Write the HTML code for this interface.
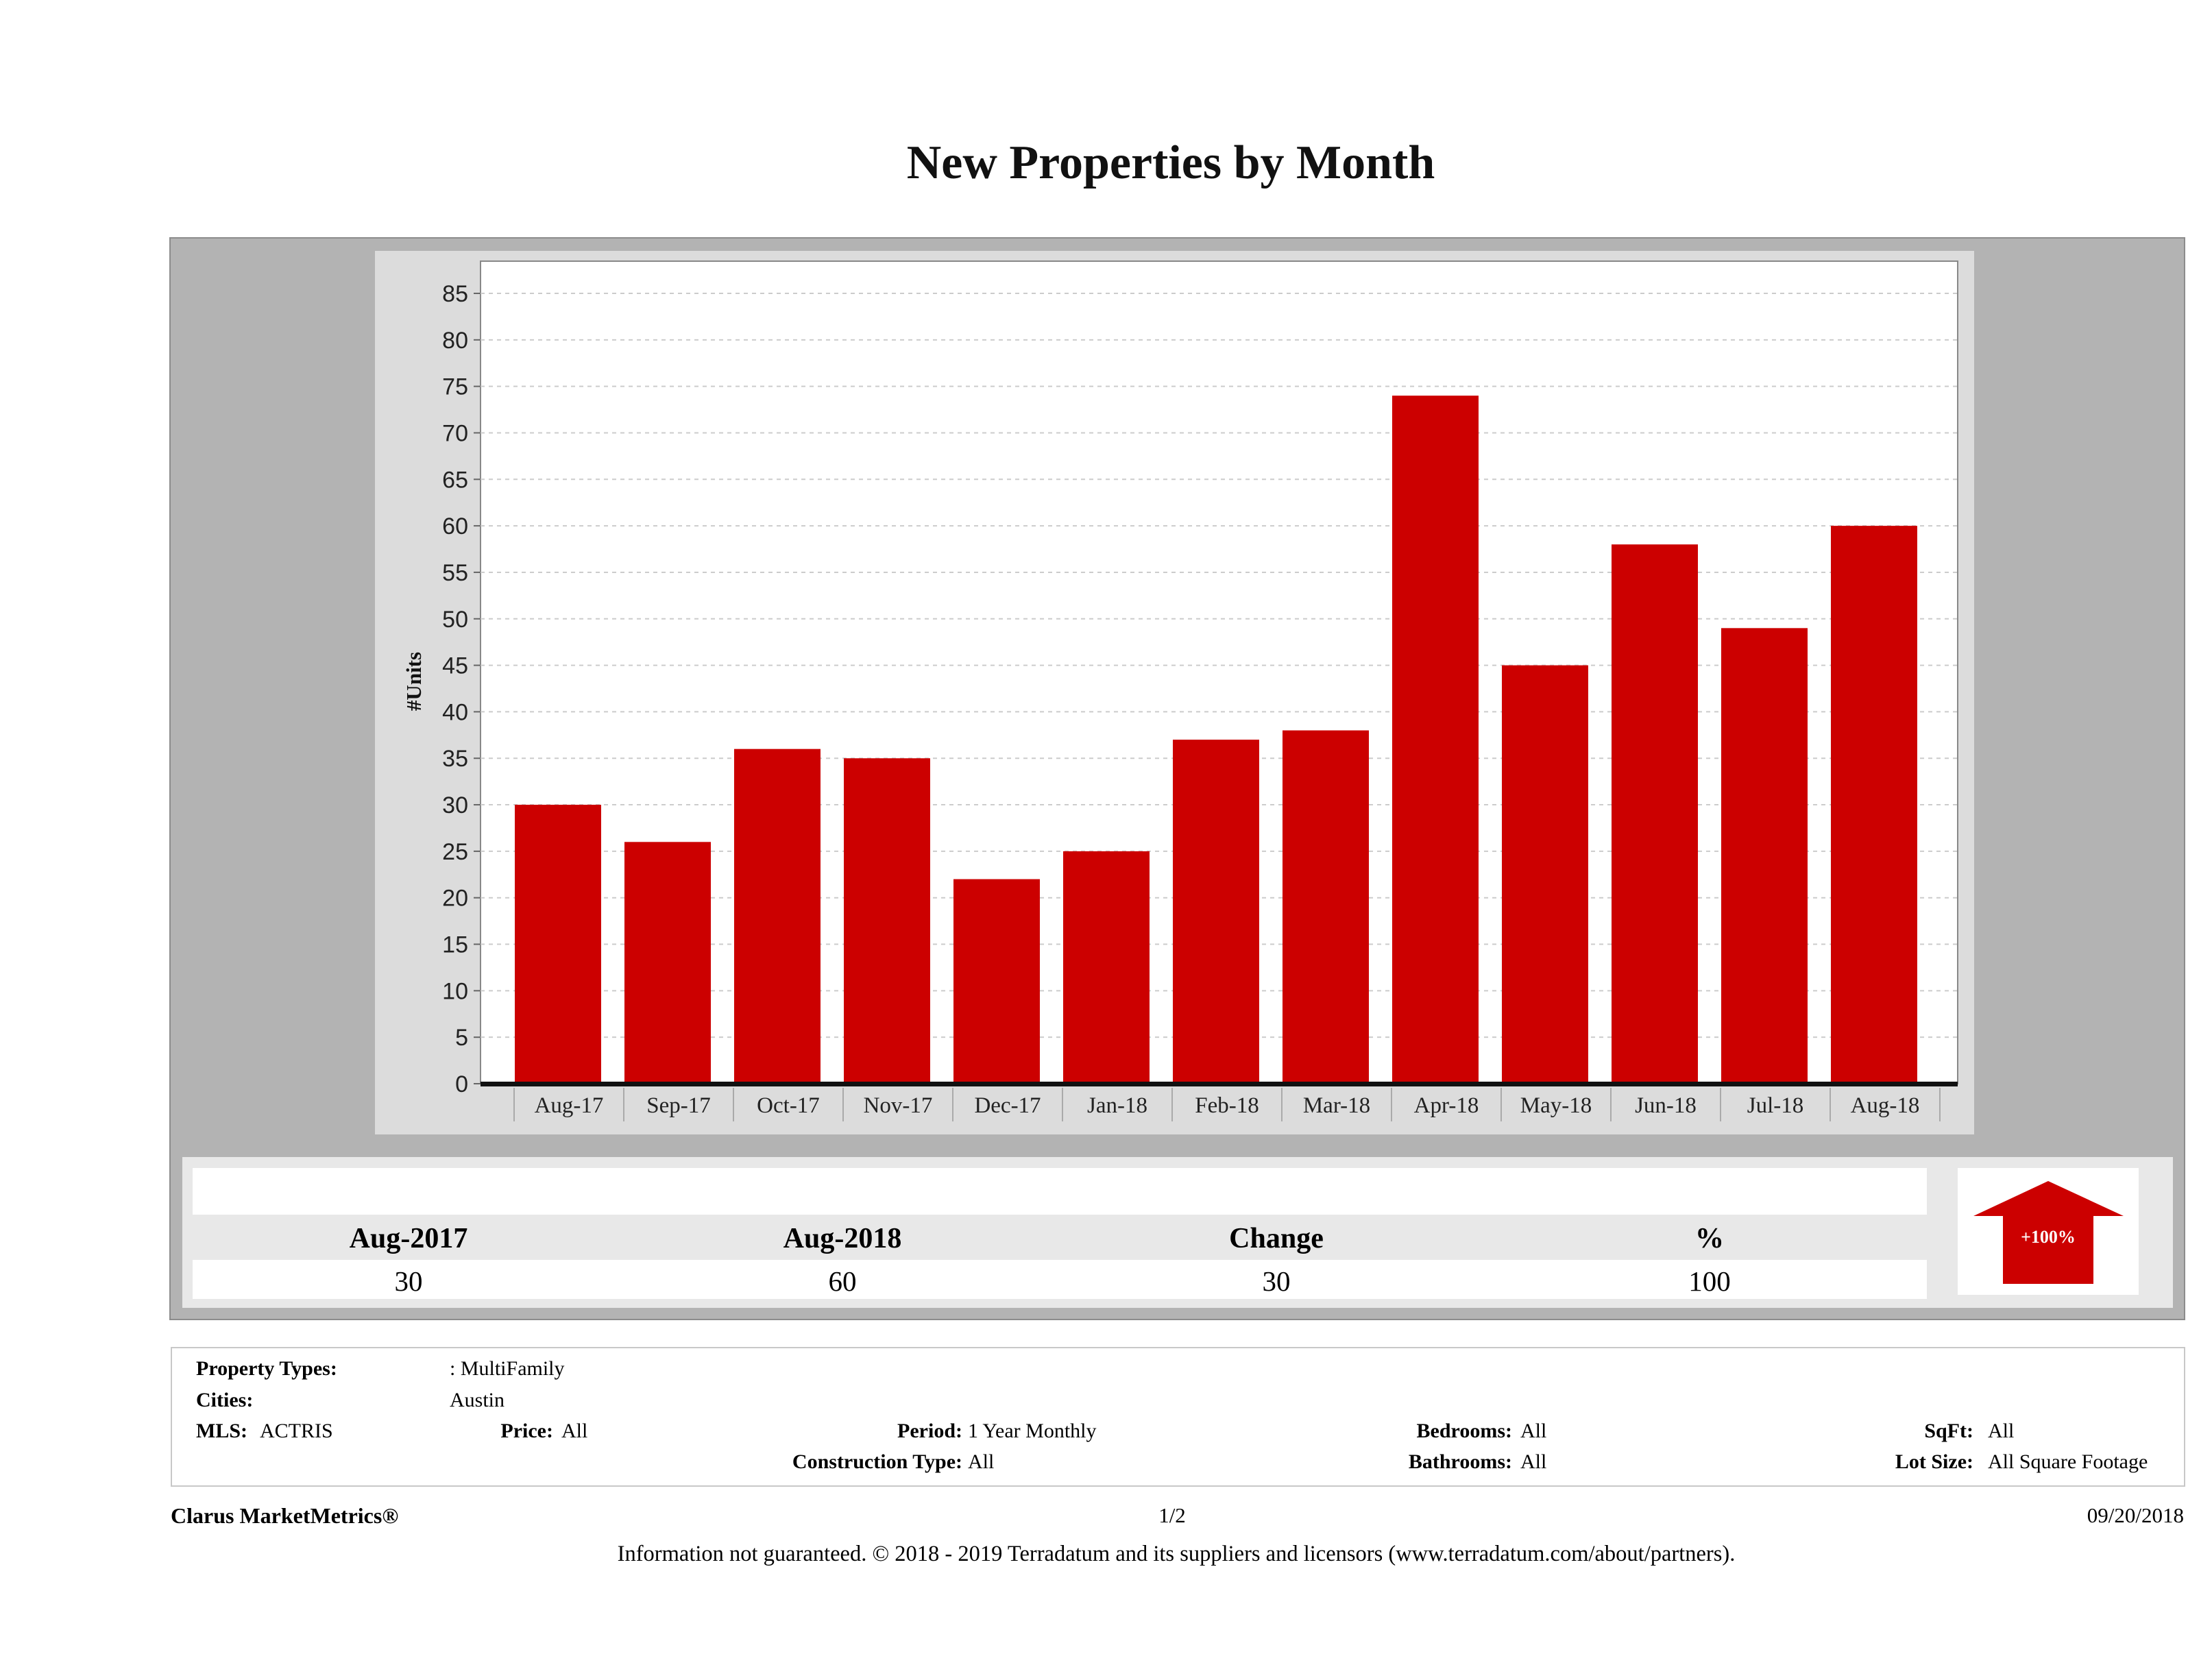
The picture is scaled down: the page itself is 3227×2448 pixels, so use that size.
<!DOCTYPE html>
<html><head><meta charset="utf-8"><style>
body{margin:0;width:3227px;height:2448px;background:#fff;position:relative;overflow:hidden;font-family:"Liberation Serif",serif;}
.a{position:absolute;white-space:nowrap;}
.b{font-weight:bold;}
</style></head><body>
<div class="a b" style="left:0;width:3416px;top:198px;text-align:center;font-size:70px;color:#111;">New Properties by Month</div>
<div class="a" style="left:247px;top:346px;width:2937px;height:1576px;background:#b3b3b3;border:2px solid #8c8c8c;"></div>
<div class="a" style="left:547px;top:366px;width:2333px;height:1289px;background:#dcdcdc;"></div>
<svg class="a" style="left:0;top:0" width="3227" height="1700">
<g id="g"></g>
</svg>
<div class="a" style="left:266px;top:1688px;width:2904px;height:220px;background:#e8e8e8;"></div>
<div class="a" style="left:281px;top:1704px;width:2530px;height:68px;background:#fff;"></div>
<div class="a" style="left:281px;top:1838px;width:2530px;height:57px;background:#fff;"></div>
<div class="a b" style="left:496px;width:200px;top:1783px;text-align:center;font-size:42px;line-height:48px;">Aug-2017</div>
<div class="a b" style="left:1129px;width:200px;top:1783px;text-align:center;font-size:42px;line-height:48px;">Aug-2018</div>
<div class="a b" style="left:1762px;width:200px;top:1783px;text-align:center;font-size:42px;line-height:48px;">Change</div>
<div class="a b" style="left:2394px;width:200px;top:1783px;text-align:center;font-size:42px;line-height:48px;">%</div>
<div class="a" style="left:496px;width:200px;top:1845px;text-align:center;font-size:41px;line-height:48px;">30</div>
<div class="a" style="left:1129px;width:200px;top:1845px;text-align:center;font-size:41px;line-height:48px;">60</div>
<div class="a" style="left:1762px;width:200px;top:1845px;text-align:center;font-size:41px;line-height:48px;">30</div>
<div class="a" style="left:2394px;width:200px;top:1845px;text-align:center;font-size:41px;line-height:48px;">100</div>
<div class="a" style="left:2856px;top:1704px;width:264px;height:185px;background:#fff;"></div>
<svg class="a" style="left:2856px;top:1704px" width="264" height="185">
<polygon points="132,19 242,70 198,70 198,169 66,169 66,70 23,70" fill="#cc0000"/>
<text x="132" y="109" text-anchor="middle" font-family="Liberation Serif" font-weight="bold" font-size="26" fill="#fff">+100%</text>
</svg>
<div class="a" style="left:249px;top:1965px;width:2935px;height:200px;border:2px solid #c8c8c8;"></div>
<div style="font-size:30px;">
<div class="a b" style="left:286px;top:1980px;">Property Types:</div>
<div class="a" style="left:656px;top:1980px;">: MultiFamily</div>
<div class="a b" style="left:286px;top:2026px;">Cities:</div>
<div class="a" style="left:656px;top:2026px;">Austin</div>
<div class="a b" style="left:286px;top:2071px;">MLS:</div>
<div class="a" style="left:379px;top:2071px;">ACTRIS</div>
<div class="a b" style="right:2420px;top:2071px;">Price:</div>
<div class="a" style="left:819px;top:2071px;">All</div>
<div class="a b" style="right:1823px;top:2071px;">Period:</div>
<div class="a" style="left:1412px;top:2071px;">1 Year Monthly</div>
<div class="a b" style="right:1823px;top:2116px;">Construction Type:</div>
<div class="a" style="left:1412px;top:2116px;">All</div>
<div class="a b" style="right:1021px;top:2071px;">Bedrooms:</div>
<div class="a" style="left:2218px;top:2071px;">All</div>
<div class="a b" style="right:1021px;top:2116px;">Bathrooms:</div>
<div class="a" style="left:2218px;top:2116px;">All</div>
<div class="a b" style="right:348px;top:2071px;">SqFt:</div>
<div class="a" style="left:2900px;top:2071px;">All</div>
<div class="a b" style="right:348px;top:2116px;">Lot Size:</div>
<div class="a" style="left:2900px;top:2116px;">All Square Footage</div>
<div class="a b" style="left:249px;top:2193px;font-size:32px;">Clarus MarketMetrics®</div>
<div class="a" style="left:1610px;width:200px;text-align:center;top:2193px;font-size:31px;">1/2</div>
<div class="a" style="right:41px;top:2193px;font-size:31px;">09/20/2018</div>
<div class="a" style="left:0;width:3432px;text-align:center;top:2249px;font-size:32.5px;">Information not guaranteed. © 2018 - 2019 Terradatum and its suppliers and licensors (www.terradatum.com/about/partners).</div>
</div>
<script>
const categories=["Aug-17","Sep-17","Oct-17","Nov-17","Dec-17","Jan-18","Feb-18","Mar-18","Apr-18","May-18","Jun-18","Jul-18","Aug-18"];
const values=[30,26,36,35,22,25,37,38,74,45,58,49,60];
const yTicks=[0,5,10,15,20,25,30,35,40,45,50,55,60,65,70,75,80,85];
const NS="http://www.w3.org/2000/svg";
const g=document.getElementById('g');
const PL=701,PR=2856,PT=381,Y0=1581,YS=(1581-428)/85,X0=750,CW=160,BW=126;
const y=v=>Y0-v*YS, x=i=>X0+i*CW;
function mk(t,a,p){const e=document.createElementNS(NS,t);for(const k in a)e.setAttribute(k,a[k]);(p||g).appendChild(e);return e;}
let r=mk('rect',{x:PL,y:PT,width:PR-PL,height:Y0-PT,fill:'#fff',stroke:'#888','stroke-width':2});


yTicks.forEach(v=>{
 if(v>0){let l=mk('line',{x1:PL,x2:PR,y1:y(v),y2:y(v),stroke:'#ccc','stroke-width':2,'stroke-dasharray':'6 6'});
 
 }
 mk('line',{x1:PL-10,x2:PL,y1:y(v),y2:y(v),stroke:'#666','stroke-width':2});
 let t=mk('text',{x:PL-18,y:y(v)+12,'text-anchor':'end','font-family':'Liberation Sans','font-size':34,fill:'#222'});
 t.textContent=v;
 
 
});
values.forEach((v,i)=>{
 let b=mk('rect',{x:x(i)+1,y:y(v),width:BW,height:Y0-y(v),fill:'#cc0000'});
 
 
 mk('line',{x1:x(i),x2:x(i),y1:Y0+6,y2:1636,stroke:'#aaa','stroke-width':2});
 let t=mk('text',{x:x(i)+CW/2,y:1623,'text-anchor':'middle','font-family':'Liberation Serif','font-size':33,fill:'#222'});
 t.textContent=categories[i];
 
 
});
mk('line',{x1:x(categories.length),x2:x(categories.length),y1:Y0+6,y2:1636,stroke:'#aaa','stroke-width':2});
let ax=mk('rect',{x:PL,y:Y0-3,width:PR-PL,height:7,fill:'#111'});


let yt=mk('text',{x:0,y:0,'text-anchor':'middle','font-family':'Liberation Serif','font-weight':'bold','font-size':31,fill:'#111',transform:'translate(614,994) rotate(-90)'});
yt.textContent='#Units';


</script>
</body></html>
